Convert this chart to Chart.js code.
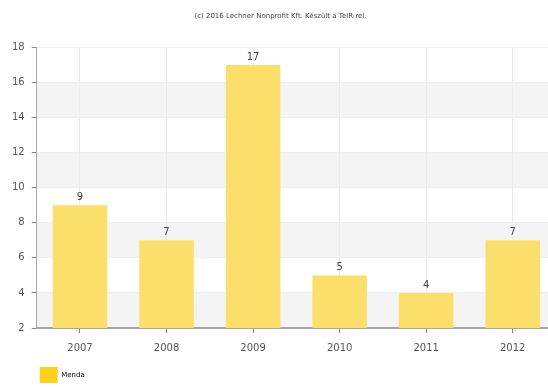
<!DOCTYPE html>
<html lang="hu">
<head>
    <meta charset="UTF-8">
    <title>Menda 2007-2012</title>
    <style>
        body {
            margin: 0;
            background: #fff;
            overflow: hidden;
        }
        .chart-container {
            position: relative;
            width: 556px;
            height: 387px;
        }
    </style>
    <script src="https://cdn.jsdelivr.net/npm/chart.js"></script>
</head>
<body>
    <div class="chart-container">
        <canvas id="barChart"></canvas>
    </div>
    <script>
        // Data
        const years = ['2007', '2008', '2009', '2010', '2011', '2012'];
        const values = [9, 7, 17, 5, 4, 7];
        const seriesName = 'Menda';
        const yMin = 2;
        const yMax = 18;
        const yStep = 2;

        // Alternating light bands behind the plot
        const bandPlugin = {
            id: 'bands',
            beforeDraw(chart) {
                const { ctx, chartArea, scales } = chart;
                const y = scales.y;
                ctx.save();
                ctx.fillStyle = '#f4f4f4';
                for (let v = yMin; v < yMax; v += yStep * 2) {
                    const top = y.getPixelForValue(v + yStep);
                    const bottom = y.getPixelForValue(v);
                    ctx.fillRect(chartArea.left, top, chartArea.right - chartArea.left, bottom - top);
                }
                ctx.restore();
            }
        };

        // Value labels above each bar
        const valueLabels = {
            id: 'valueLabels',
            afterDatasetsDraw(chart) {
                const { ctx } = chart;
                const meta = chart.getDatasetMeta(0);
                ctx.save();
                ctx.font = '10px "DejaVu Sans", sans-serif';
                ctx.fillStyle = '#444';
                ctx.textAlign = 'center';
                ctx.textBaseline = 'bottom';
                meta.data.forEach((bar, i) => {
                    ctx.fillText(values[i], bar.x, bar.y - 3);
                });
                ctx.restore();
            }
        };

        const ctx = document.getElementById('barChart').getContext('2d');
        new Chart(ctx, {
            type: 'bar',
            data: {
                labels: years,
                datasets: [{
                    label: seriesName,
                    data: values,
                    backgroundColor: '#fcdf6a',
                    borderWidth: 0,
                    barPercentage: 0.63,
                    categoryPercentage: 1.0
                }]
            },
            options: {
                responsive: true,
                maintainAspectRatio: false,
                animation: false,
                layout: {
                    padding: { left: 5, right: 0, top: 0, bottom: -6 }
                },
                plugins: {
                    tooltip: { enabled: false },
                    title: {
                        display: true,
                        text: '(c) 2016 Lechner Nonprofit Kft. Készült a TeIR-rel.',
                        color: '#444',
                        font: { family: '"DejaVu Sans", sans-serif', size: 7, weight: 'normal' },
                        padding: { top: 12, bottom: 27 }
                    },
                    legend: {
                        position: 'bottom',
                        align: 'start',
                        fullSize: false,
                        labels: {
                            boxWidth: 18,
                            boxHeight: 16,
                            color: '#555',
                            font: { family: '"DejaVu Sans", sans-serif', size: 7 },
                            padding: 3,
                            generateLabels(chart) {
                                return [{
                                    text: seriesName,
                                    fillStyle: '#fdd21e',
                                    strokeStyle: '#fdd21e',
                                    lineWidth: 0,
                                    datasetIndex: 0
                                }];
                            }
                        }
                    }
                },
                scales: {
                    x: {
                        afterFit(scale) {
                            scale.height += 1;
                        },
                        grid: {
                            offset: false,
                            color: '#ebebeb',
                            tickColor: '#888',
                            tickLength: 5
                        },
                        border: { color: '#a6a6a6', width: 2 },
                        ticks: {
                            color: '#555',
                            font: { family: '"DejaVu Sans", sans-serif', size: 10 },
                            padding: 9
                        }
                    },
                    y: {
                        min: yMin,
                        max: yMax,
                        grid: {
                            color: '#efefef',
                            tickColor: '#888',
                            tickLength: 5
                        },
                        border: { color: '#aaa3bd', width: 1 },
                        ticks: {
                            stepSize: yStep,
                            color: '#555',
                            font: { family: '"DejaVu Sans", sans-serif', size: 10 },
                            padding: 7
                        }
                    }
                }
            },
            plugins: [bandPlugin, valueLabels]
        });
    </script>
</body>
</html>
